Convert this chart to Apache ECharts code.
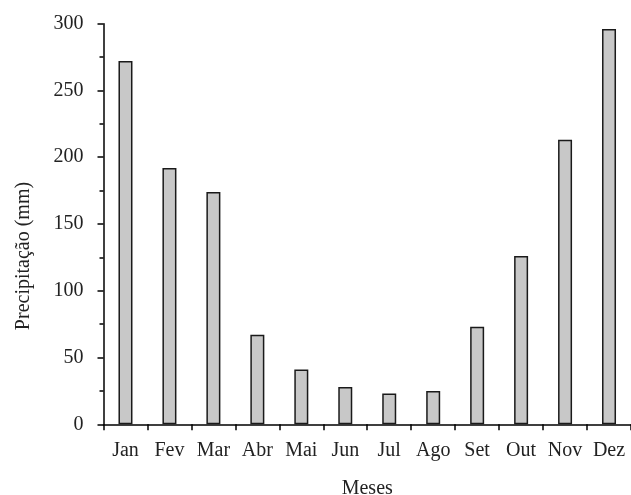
<!DOCTYPE html>
<html>
<head>
<meta charset="utf-8">
<script src="https://cdn.jsdelivr.net/npm/echarts@6/dist/echarts.min.js"></script>
<style>
  html, body { margin: 0; padding: 0; background: #fff; }
  #chart { width: 631px; height: 495px; }
</style>
</head>
<body>
<div id="chart"></div>
<script>
var months = ["Jan", "Fev", "Mar", "Abr", "Mai", "Jun", "Jul", "Ago", "Set", "Out", "Nov", "Dez"];
var rainfall = [272, 192, 174, 67, 41, 28, 23, 25, 73, 126, 213, 296];
var yMin = 0, yMax = 300, yStep = 50;

var myChart = echarts.init(document.getElementById("chart"));
var fontFamily = "Liberation Serif";

var option = {
  backgroundColor: "#fff",
  animation: false,
  grid: { left: 103.5, right: 0, top: 23.7, bottom: 70.7, containLabel: false, outerBoundsMode: "none" },
  xAxis: {
    type: "category",
    data: months,
    name: "Meses",
    nameLocation: "middle",
    nameGap: 54,
    nameTextStyle: { color: "#222", fontSize: 20, fontFamily: fontFamily },
    axisLine: { lineStyle: { color: "#000", width: 1.5 } },
    axisTick: { show: true, length: 6, lineStyle: { color: "#000", width: 1.5 } },
    axisLabel: { color: "#222", fontSize: 20, fontFamily: fontFamily, margin: 16, interval: 0, hideOverlap: false },
    splitLine: { show: false }
  },
  yAxis: {
    type: "value",
    min: yMin,
    max: yMax,
    interval: yStep,
    name: "Precipitação (mm)",
    nameLocation: "middle",
    nameGap: 70,
    nameTextStyle: { color: "#222", fontSize: 20, fontFamily: fontFamily, padding: [0, 64, 0, 0] },
    axisLine: { show: true, lineStyle: { color: "#000", width: 1.5 } },
    axisTick: { show: true, length: 6, lineStyle: { color: "#000", width: 1.5 } },
    minorTick: { show: true, splitNumber: 2, length: 4, lineStyle: { color: "#000", width: 1.5 } },
    axisLabel: { color: "#222", fontSize: 20, fontFamily: fontFamily, margin: 20 },
    splitLine: { show: false }
  },
  series: [
    {
      type: "bar",
      data: rainfall,
      barWidth: 14,
      itemStyle: { color: "#c8c8c8", borderColor: "#1a1a1a", borderWidth: 1.5 }
    }
  ]
};
myChart.setOption(option);
</script>
</body>
</html>
